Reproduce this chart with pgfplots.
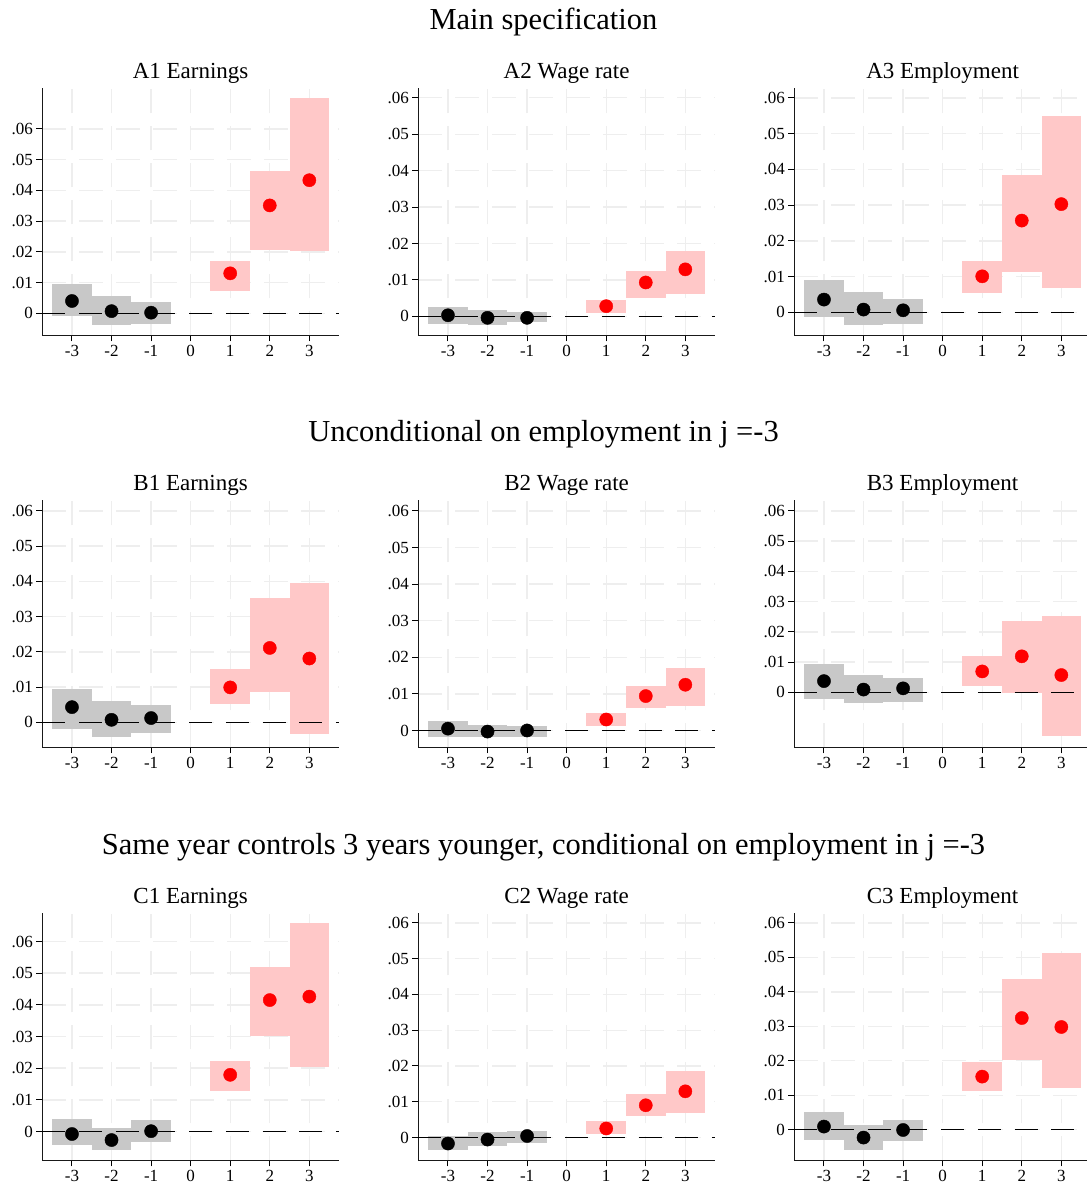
\documentclass[border=0pt]{standalone}
\usepackage{fontspec}
\setmainfont{Liberation Serif}
\usepackage{pgfplots}
\pgfplotsset{compat=1.18}
\definecolor{boxgray}{RGB}{200,200,200}
\definecolor{boxpink}{RGB}{255,200,200}
\definecolor{gridc}{RGB}{238,238,238}
\pgfplotsset{
 evt/.style={
  scale only axis, width=296.7pt, height=247pt, anchor=south west,
  xmin=-3.75, xmax=3.75,
  axis lines=left, axis line style={-, line width=1.2pt, black!90},
  xtick={-3,-2,-1,0,1,2,3}, xticklabels={-3,-2,-1,0,1,2,3},
  ytick={0,0.01,0.02,0.03,0.04,0.05,0.06}, yticklabels={0,.01,.02,.03,.04,.05,.06},
  scaled y ticks=false, scaled x ticks=false,
  tick align=outside, major tick length=6pt, tick style={black, line width=1pt},
  xmajorgrids, ymajorgrids,
  grid style={draw=gridc, line width=1.4pt, dash pattern=on 24pt off 13pt},
  tick label style={font=\fontsize{17}{20}\selectfont},
 }
}
\newcommand\solidzero{\addplot[black, line width=1.3pt, forget plot] coordinates {(-3.75,0)(-0.4,0)};}
\newcommand\dashzero{\addplot[black, line width=1.3pt, dash pattern=on 23pt off 13.7pt, forget plot] coordinates {(-3.75,0)(3.75,0)};}
\newcommand\pre[6]{%
 \addplot[fill=boxgray, draw=none] coordinates {(-3.5,#1)(-2.5,#1)(-2.5,#2)(-3.5,#2)} -- cycle;
 \addplot[fill=boxgray, draw=none] coordinates {(-2.5,#3)(-1.5,#3)(-1.5,#4)(-2.5,#4)} -- cycle;
 \addplot[fill=boxgray, draw=none] coordinates {(-1.5,#5)(-0.5,#5)(-0.5,#6)(-1.5,#6)} -- cycle;}
\newcommand\post[6]{%
 \addplot[fill=boxpink, draw=none] coordinates {(0.5,#1)(1.5,#1)(1.5,#2)(0.5,#2)} -- cycle;
 \addplot[fill=boxpink, draw=none] coordinates {(1.5,#3)(2.5,#3)(2.5,#4)(1.5,#4)} -- cycle;
 \addplot[fill=boxpink, draw=none] coordinates {(2.5,#5)(3.5,#5)(3.5,#6)(2.5,#6)} -- cycle;}
\newcommand\pts[6]{%
 \addplot[only marks, mark=*, mark size=6.6pt, black] coordinates {(-3,#1)(-2,#2)(-1,#3)};
 \addplot[only marks, mark=*, mark size=6.6pt, red, mark options={draw=red, fill=red}] coordinates {(1,#4)(2,#5)(3,#6)};}
\begin{document}
\begin{tikzpicture}[x=1pt,y=1pt]
\tikzset{rowt/.style={anchor=base, font=\fontsize{30.5}{34}\selectfont},
 pant/.style={anchor=base, font=\fontsize{23}{27}\selectfont}}
% Row titles
\node[rowt] at (543.5pt,-29.5pt) {Main specification};
\node[rowt] at (543.5pt,-441.5pt) {Unconditional on employment in j =-3};
\node[rowt] at (543.5pt,-854.8pt) {Same year controls 3 years younger, conditional on employment in j =-3};
% Panel titles
\node[pant] at (190.6pt,-78pt) {A1 Earnings};
\node[pant] at (566.6pt,-78pt) {A2 Wage rate};
\node[pant] at (942.6pt,-78pt) {A3 Employment};
\node[pant] at (190.6pt,-490pt) {B1 Earnings};
\node[pant] at (566.6pt,-490pt) {B2 Wage rate};
\node[pant] at (942.6pt,-490pt) {B3 Employment};
\node[pant] at (190.6pt,-903.3pt) {C1 Earnings};
\node[pant] at (566.6pt,-903.3pt) {C2 Wage rate};
\node[pant] at (942.6pt,-903.3pt) {C3 Employment};

% A1
\begin{axis}[evt, at={(42.3pt,-335.3pt)}, ymin=-0.00716, ymax=0.0732]
\solidzero
\pre{-0.0008}{0.0095}{-0.0037}{0.0056}{-0.0034}{0.0037}
\post{0.0074}{0.0170}{0.0206}{0.0463}{0.0203}{0.0700}
\dashzero
\pts{0.0040}{0.0007}{0.0002}{0.0130}{0.0351}{0.0433}
\end{axis}
% A2
\begin{axis}[evt, at={(418.3pt,-335.3pt)}, ymin=-0.0052, ymax=0.0626]
\solidzero
\pre{-0.0020}{0.0026}{-0.0023}{0.0017}{-0.0015}{0.0012}
\post{0.0010}{0.0045}{0.0051}{0.0125}{0.0062}{0.0179}
\dashzero
\pts{0.0003}{-0.0004}{-0.0004}{0.0028}{0.0093}{0.0129}
\end{axis}
% A3
\begin{axis}[evt, at={(794.3pt,-335.3pt)}, ymin=-0.0064, ymax=0.0627]
\solidzero
\pre{-0.0012}{0.0090}{-0.0035}{0.0057}{-0.0032}{0.0037}
\post{0.0055}{0.0144}{0.0114}{0.0384}{0.0069}{0.0549}
\dashzero
\pts{0.0036}{0.0008}{0.0006}{0.0101}{0.0257}{0.0303}
\end{axis}
% B1
\begin{axis}[evt, at={(42.3pt,-747.3pt)}, ymin=-0.0071, ymax=0.0630]
\solidzero
\pre{-0.0018}{0.0095}{-0.0041}{0.0060}{-0.0030}{0.0048}
\post{0.0052}{0.0151}{0.0087}{0.0353}{-0.0032}{0.0394}
\dashzero
\pts{0.0043}{0.0007}{0.0012}{0.0099}{0.0211}{0.0181}
\end{axis}
% B2
\begin{axis}[evt, at={(418.3pt,-747.3pt)}, ymin=-0.0046, ymax=0.0629]
\solidzero
\pre{-0.0017}{0.0026}{-0.0017}{0.0016}{-0.0017}{0.0012}
\post{0.0013}{0.0047}{0.0062}{0.0121}{0.0067}{0.0170}
\dashzero
\pts{0.0005}{-0.0003}{0.0000}{0.0030}{0.0094}{0.0125}
\end{axis}
% B3
\begin{axis}[evt, at={(794.3pt,-747.3pt)}, ymin=-0.0182, ymax=0.0635]
\solidzero
\pre{-0.0021}{0.0094}{-0.0037}{0.0057}{-0.0031}{0.0047}
\post{0.0021}{0.0120}{-0.0002}{0.0236}{-0.0146}{0.0252}
\dashzero
\pts{0.0037}{0.0009}{0.0013}{0.0069}{0.0119}{0.0057}
\end{axis}
% C1
\begin{axis}[evt, at={(42.3pt,-1160.3pt)}, ymin=-0.0091, ymax=0.0689]
\solidzero
\pre{-0.0044}{0.0040}{-0.0057}{0.0012}{-0.0033}{0.0037}
\post{0.0129}{0.0223}{0.0303}{0.0520}{0.0205}{0.0658}
\dashzero
\pts{-0.0008}{-0.0027}{0.0001}{0.0179}{0.0415}{0.0426}
\end{axis}
% C2
\begin{axis}[evt, at={(418.3pt,-1160.3pt)}, ymin=-0.0064, ymax=0.0627]
\solidzero
\pre{-0.0035}{0.0003}{-0.0023}{0.0015}{-0.0015}{0.0018}
\post{0.0009}{0.0046}{0.0061}{0.0121}{0.0069}{0.0186}
\dashzero
\pts{-0.0017}{-0.0006}{0.0004}{0.0025}{0.0090}{0.0129}
\end{axis}
% C3
\begin{axis}[evt, at={(794.3pt,-1160.3pt)}, ymin=-0.0089, ymax=0.0628]
\solidzero
\pre{-0.0029}{0.0051}{-0.0058}{0.0014}{-0.0032}{0.0028}
\post{0.0113}{0.0197}{0.0203}{0.0438}{0.0122}{0.0513}
\dashzero
\pts{0.0009}{-0.0023}{-0.0001}{0.0154}{0.0324}{0.0298}
\end{axis}
\pgfresetboundingbox
\useasboundingbox (0pt,0pt) rectangle (1087pt,-1184pt);
\end{tikzpicture}
\end{document}
